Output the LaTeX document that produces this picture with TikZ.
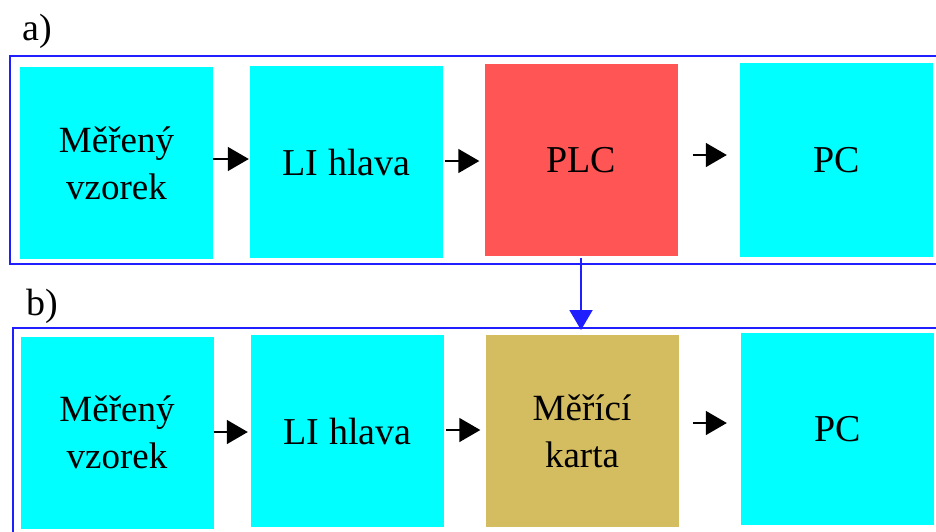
\documentclass[tikz,border=0pt]{standalone}
\usepackage{fontspec}
\setmainfont{Liberation Serif}
\usetikzlibrary{arrows.meta}
\definecolor{boxcyan}{RGB}{0,255,255}
\definecolor{plcred}{RGB}{255,85,85}
\definecolor{kartatan}{RGB}{212,188,96}
\definecolor{ramblue}{RGB}{30,30,255}
\begin{document}
\begin{tikzpicture}[x=1pt,y=-1pt,
  blok/.style={fill=boxcyan,minimum width=193pt,minimum height=192pt,inner sep=0pt,
    align=center,font=\fontsize{37}{47}\selectfont},
  jeden/.style={font=\fontsize{38}{44}\selectfont},
  arr/.style={-{Triangle[length=21pt,width=24pt]},line width=1.5pt},
  ram/.style={draw=ramblue,line width=2pt},
  spoj/.style={-{Triangle[length=20pt,width=23pt]},draw=ramblue,line width=2pt,ramblue}]
\clip (0,0) rectangle (936,531);

% a)
\node[anchor=base west,jeden] (la) at (19,40) {a)};
\draw[ram] (10,56) rectangle (960,264);
\node[blok] (a1) at (116.5,163) {Měřený\\vzorek};
\node[blok,jeden] (a2) at (346.5,162) {LI hlava};
\node[blok,jeden,fill=plcred] (a3) at (581,160) {PLC};
\node[blok,jeden,minimum height=194pt] (a4) at (836.5,160) {PC};
\draw[arr] ([yshift=4pt]a1.east) -- ([yshift=3pt,xshift=-1pt]a2.west);
\draw[arr] ([yshift=1pt,xshift=2pt]a2.east) -- ([yshift=-1pt,xshift=-5pt]a3.west);
\draw[arr] ([yshift=5pt,xshift=15pt]a3.east) -- ([yshift=5pt,xshift=-13pt]a4.west);

% b)
\node[anchor=base west,jeden] (lb) at (23,315) {b)};
\draw[ram] (13,328) rectangle (960,560);
\node[blok] (b1) at (117,432.5) {Měřený\\vzorek};
\node[blok,jeden] (b2) at (347.5,431) {LI hlava};
\node[blok,fill=kartatan] (b3) at (582,431) {Měřící\\karta};
\node[blok,jeden] (b4) at (837.5,429) {PC};
\draw[arr] ([yshift=0.5pt]b1.east) -- ([yshift=-1pt,xshift=-3pt]b2.west);
\draw[arr] ([yshift=1pt,xshift=2pt]b2.east) -- ([yshift=1pt,xshift=-5pt]b3.west);
\draw[arr] ([yshift=8pt,xshift=14pt]b3.east) -- ([yshift=6pt,xshift=-14pt]b4.west);

% PLC -> karta
\coordinate (vstup) at (581,330);
\draw[spoj] ([yshift=-2pt]a3.south) -- (vstup);
\end{tikzpicture}
\end{document}
